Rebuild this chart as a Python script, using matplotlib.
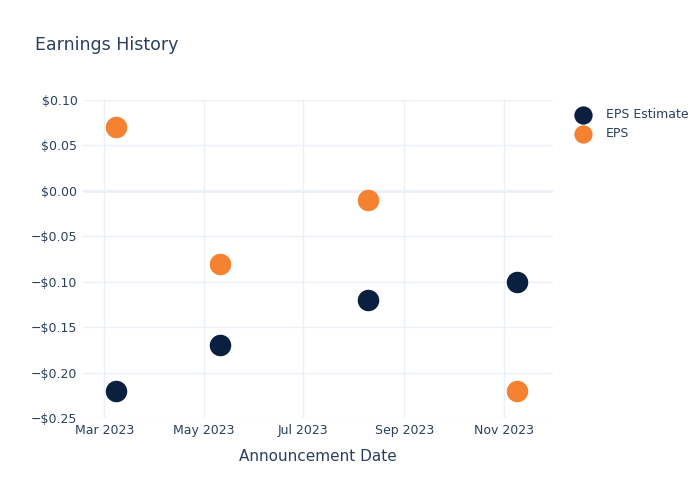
import matplotlib
matplotlib.use("Agg")
import matplotlib.pyplot as plt
import matplotlib.dates as mdates
import matplotlib.ticker as mticker
import pandas as pd

# announcement dates and EPS values
dates = pd.to_datetime(["2023-03-08", "2023-05-11", "2023-08-10", "2023-11-09"])
eps_estimate = [-0.22, -0.17, -0.12, -0.10]
eps_actual = [0.07, -0.08, -0.01, -0.22]

text_color = "#2a3f5f"
grid_color = "#ebf0f8"

fig = plt.figure(figsize=(7, 5), dpi=100)
ax = fig.add_axes([0.1186, 0.164, 0.671, 0.636])

ax.scatter(dates, eps_estimate, s=240, color="#0b1f3f", label="EPS Estimate", zorder=3, linewidths=0)
ax.scatter(dates, eps_actual, s=240, color="#f58131", label="EPS", zorder=3, linewidths=0)

ax.set_xlim(pd.Timestamp("2023-02-16"), pd.Timestamp("2023-12-01"))
ax.set_ylim(-0.25, 0.10)

ax.xaxis.set_major_locator(mdates.MonthLocator(bymonth=[3, 5, 7, 9, 11]))
ax.xaxis.set_major_formatter(mdates.DateFormatter("%b %Y"))
ax.yaxis.set_major_locator(mticker.MultipleLocator(0.05))


def money(v, pos):
    s = "${:.2f}".format(abs(v))
    return ("\u2212" + s) if v < -1e-9 else s


ax.yaxis.set_major_formatter(mticker.FuncFormatter(money))

ax.grid(True, color=grid_color, linewidth=1)
ax.axhline(0, color=grid_color, linewidth=2, zorder=1)
ax.set_axisbelow(True)
for sp in ax.spines.values():
    sp.set_visible(False)
ax.tick_params(length=0, colors=text_color, labelsize=9)
ax.tick_params(axis="x", pad=4)
ax.tick_params(axis="y", pad=4)

ax.set_xlabel("Announcement Date", color=text_color, fontsize=11, labelpad=9)
fig.text(0.05, 0.9, "Earnings History", color=text_color, fontsize=12.5)

leg = ax.legend(loc="upper left", bbox_to_anchor=(1.014, 1.01), frameon=False,
                fontsize=9, labelcolor=text_color, handletextpad=0.8,
                markerscale=0.85, labelspacing=0.5)

fig.savefig("out.png", dpi=100)
